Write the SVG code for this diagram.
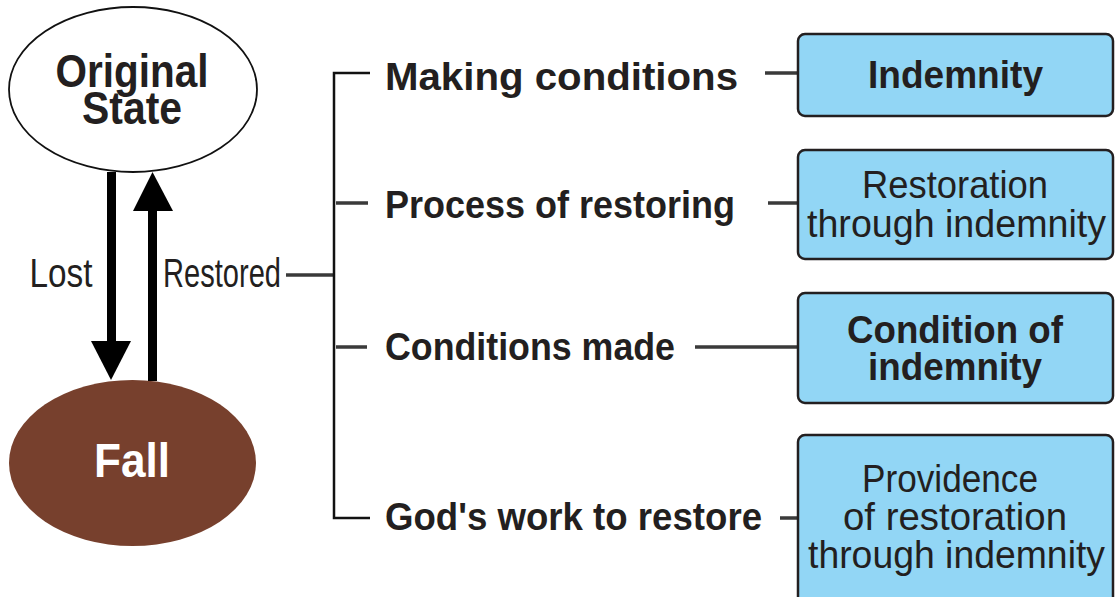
<svg xmlns="http://www.w3.org/2000/svg" width="1115" height="597" viewBox="0 0 1115 597">
<style>
text{font-family:"Liberation Sans",Arial,sans-serif;fill:#231f20;text-anchor:middle}
.b{font-weight:bold}
.lbl{font-weight:bold;font-size:39px;text-anchor:start}
.box{fill:#92d6f5;stroke:#231f20;stroke-width:2.5}
.bt{font-size:39px}
.ln{stroke:#3a3a3a;stroke-width:3.5;fill:none}
.br{stroke:#111;stroke-width:2.5;fill:none}
</style>
<rect width="1115" height="597" fill="#fff"/>
<g id="original-state">
<ellipse cx="133" cy="89.5" rx="124" ry="82.5" fill="#fff" stroke="#111" stroke-width="1.8"/>
<text class="b" x="132" y="87" font-size="47" textLength="153" lengthAdjust="spacingAndGlyphs">Original</text>
<text class="b" x="132" y="124" font-size="47" textLength="100" lengthAdjust="spacingAndGlyphs">State</text>
</g>
<g id="fall">
<ellipse cx="132.5" cy="463" rx="123.5" ry="83" fill="#77402d"/>
<text class="b" x="132" y="477" font-size="48" fill="#fff" style="fill:#fff" textLength="76" lengthAdjust="spacingAndGlyphs">Fall</text>
</g>
<g id="connectors">
<rect x="107" y="172" width="9" height="170" fill="#000"/>
<polygon points="91,341 131,341 111,380" fill="#000"/>
<rect x="148" y="210" width="9" height="171" fill="#000"/>
<polygon points="133,211 173,211 152.5,172" fill="#000"/>
<path class="ln" d="M286 275 H334"/>
<path class="br" d="M370 73 H334 V518 H370"/>
<path class="ln" d="M336 203 H368 M336 347 H367"/>
<path class="ln" d="M765 73 H798 M768 203 H798 M695 347 H798 M780 518 H798"/>
</g>
<g id="lost-label"><text x="61" y="287" font-size="40" textLength="63" lengthAdjust="spacingAndGlyphs">Lost</text></g>
<g id="restored-label"><text x="222" y="287" font-size="40" textLength="118" lengthAdjust="spacingAndGlyphs">Restored</text></g>
<g id="making-conditions"><text class="lbl" x="385" y="90" textLength="353" lengthAdjust="spacingAndGlyphs">Making conditions</text></g>
<g id="process-of-restoring"><text class="lbl" x="385" y="218" textLength="350" lengthAdjust="spacingAndGlyphs">Process of restoring</text></g>
<g id="conditions-made"><text class="lbl" x="385" y="360" textLength="290" lengthAdjust="spacingAndGlyphs">Conditions made</text></g>
<g id="gods-work"><text class="lbl" x="385" y="530" textLength="377" lengthAdjust="spacingAndGlyphs">God's work to restore</text></g>
<g id="indemnity">
<rect class="box" x="798" y="34" width="315" height="82" rx="7"/>
<text class="bt b" x="955.5" y="88" textLength="175" lengthAdjust="spacingAndGlyphs">Indemnity</text>
</g>
<g id="restoration-through-indemnity">
<rect class="box" x="798" y="150" width="315" height="109" rx="7"/>
<text class="bt" x="955" y="198" textLength="186" lengthAdjust="spacingAndGlyphs">Restoration</text>
<text class="bt" x="956.5" y="237" textLength="299" lengthAdjust="spacingAndGlyphs">through indemnity</text>
</g>
<g id="condition-of-indemnity">
<rect class="box" x="798" y="293" width="315" height="110" rx="7"/>
<text class="bt b" x="955" y="343" textLength="216" lengthAdjust="spacingAndGlyphs">Condition of</text>
<text class="bt b" x="955" y="380" textLength="174" lengthAdjust="spacingAndGlyphs">indemnity</text>
</g>
<g id="providence">
<rect class="box" x="798" y="435" width="315" height="175" rx="7"/>
<text class="bt" x="950" y="492" textLength="176" lengthAdjust="spacingAndGlyphs">Providence</text>
<text class="bt" x="955" y="530" textLength="224" lengthAdjust="spacingAndGlyphs">of restoration</text>
<text class="bt" x="956.5" y="568" textLength="297" lengthAdjust="spacingAndGlyphs">through indemnity</text>
</g>
</svg>
